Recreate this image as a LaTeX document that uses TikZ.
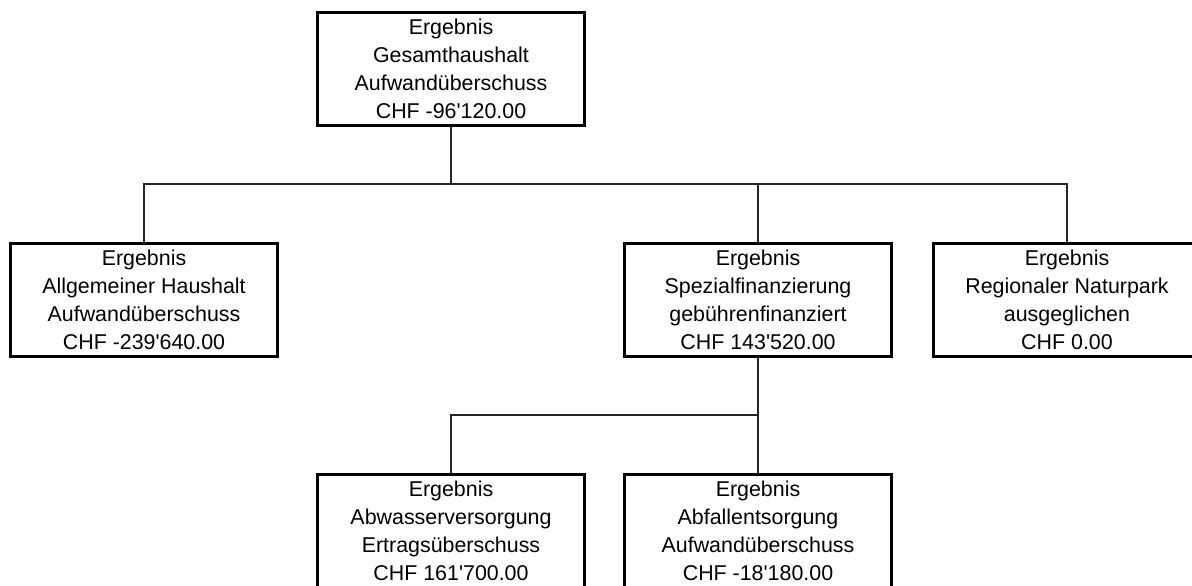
\documentclass[tikz,border=0pt]{standalone}
\usepackage{fontspec}
\setmainfont{Liberation Sans}[Ligatures=TeXOff]
\begin{document}
\begin{tikzpicture}[x=1pt,y=-1pt,
  orgbox/.style={draw=black, line width=3pt, fill=white, minimum width=267pt, minimum height=113pt,
    inner sep=0pt, align=center, font=\fontsize{21.4}{28}\selectfont, text=black},
  conn/.style={draw=black!85, line width=1.4pt}]
\clip (0,0) rectangle (1192,586);
\fill[white] (0,0) rectangle (1192,586);
\node[orgbox] (top) at (451,69) {Ergebnis\\Gesamthaushalt\\Aufwandüberschuss\\CHF -96'120.00};
\node[orgbox] (left) at (144,300) {Ergebnis\\Allgemeiner Haushalt\\Aufwandüberschuss\\CHF -239'640.00};
\node[orgbox] (mid) at (758,300) {Ergebnis\\Spezialfinanzierung\\gebührenfinanziert\\CHF 143'520.00};
\node[orgbox] (right) at (1067,300) {Ergebnis\\Regionaler Naturpark\\ausgeglichen\\CHF 0.00};
\node[orgbox] (bl) at (451,531) {Ergebnis\\Abwasserversorgung\\Ertragsüberschuss\\CHF 161'700.00};
\node[orgbox] (br) at (758,531) {Ergebnis\\Abfallentsorgung\\Aufwandüberschuss\\CHF -18'180.00};
\coordinate (bus1) at (451,184);
\coordinate (bus2) at (758,415);
\draw[conn] (top.south) -- (bus1);
\draw[conn] (left.north) |- (bus1) -| (right.north);
\draw[conn] (mid.north) -- (mid.north |- bus1);
\draw[conn] (mid.south) -- (bus2);
\draw[conn] (bl.north) |- (bus2) -- (br.north);
\end{tikzpicture}
\end{document}
